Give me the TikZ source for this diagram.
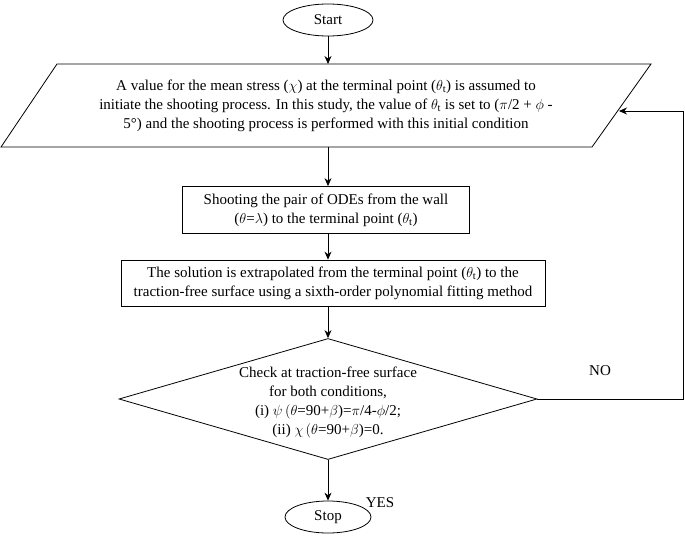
\documentclass[tikz,border=0pt]{standalone}
\usepackage{fontspec}
\setmainfont{Liberation Serif}
\usetikzlibrary{shapes.geometric,arrows.meta}
\begin{document}
\begin{tikzpicture}[x=1pt,y=-1pt,
  every node/.style={font=\fontsize{15}{19}\selectfont, align=center, inner sep=0pt},
  term/.style={draw, ellipse, minimum width=90, minimum height=32},
  box/.style={draw, rectangle},
  arr/.style={-{Stealth[length=8,width=7]}, line width=0.8},
  line width=0.8]
\useasboundingbox (0,0) rectangle (685,536);
\node[term] (start) at (328,20) {Start};
\draw (57,64) -- (651,64) -- (592,147) -- (1,147) -- cycle;
\node (p) at (326,106) {A value for the mean stress ($\chi$) at the terminal point ($\theta_{\mathrm t}$) is assumed to\\
initiate the shooting process. In this study, the value of $\theta_{\mathrm t}$ is set to ($\pi$/2 + $\phi$ -\\
5\textdegree) and the shooting process is performed with this initial condition};
\coordinate (ptop) at (328,64);
\coordinate (pbot) at (328,147);
\coordinate (pin) at (619,111);
\node[box, minimum width=287, minimum height=47] (b1) at (326,210) {Shooting the pair of ODEs from the wall\\($\theta$=$\lambda$) to the terminal point ($\theta_{\mathrm t}$)};
\node[box, minimum width=424, minimum height=46] (b2) at (333,283) {The solution is extrapolated from the terminal point ($\theta_{\mathrm t}$) to the\\traction-free surface using a sixth-order polynomial fitting method};
\node[draw, diamond, aspect=3.5, minimum width=418, minimum height=121] (d) at (328,399) {};
\node (dt) at (328,403) {Check at traction-free surface\\for both conditions,\\(i) $\psi\,(\theta$=90+$\beta$)=$\pi$/4-$\phi$/2;\\(ii) $\chi\,(\theta$=90+$\beta$)=0.};
\node[term, minimum width=86] (stop) at (328,517) {Stop};
\node (yes) at (380,503) {YES};
\node (no) at (600,371) {NO};
\coordinate (c1) at (683,399);
\coordinate (c2) at (683,111);
\draw[arr] (start) -- (ptop);
\draw[arr] (pbot) -- (pbot |- b1.north);
\draw[arr] (pbot |- b1.south) -- (pbot |- b2.north);
\draw[arr] (pbot |- b2.south) -- (d.north);
\draw[arr] (d) -- (stop);
\draw[arr] (d.east) -- (c1) -- (c2) -- (pin);
\end{tikzpicture}
\end{document}
